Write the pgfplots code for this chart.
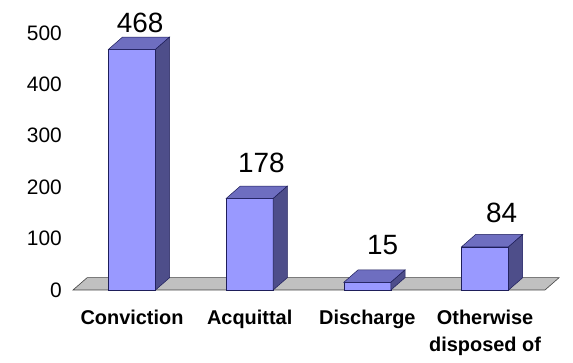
\documentclass[border=0pt]{standalone}
\usepackage{pgfplots}
\pgfplotsset{compat=1.18}
\usepackage{fontspec}
\setmainfont{Liberation Sans}
\definecolor{barfront}{RGB}{153,153,255}
\definecolor{bartop}{RGB}{110,110,192}
\definecolor{barside}{RGB}{78,78,138}
\definecolor{barline}{RGB}{30,30,90}
\definecolor{floorc}{RGB}{192,192,192}
\begin{document}
\begin{tikzpicture}
\begin{axis}[
  scale only axis,
  width=573bp, height=363bp,
  xmin=-0.1215, xmax=4.747,
  ymin=-142, ymax=564,
  axis line style={draw=none},
  tick style={draw=none},
  major tick length=0pt,
  /pgf/number format/assume math mode=true,
  ytick={0,100,200,300,400,500},
  yticklabel style={anchor=east, inner sep=0pt, xshift=62bp, font=\fontsize{21}{23}\selectfont},
  xtick={1,2,3,4},
  xticklabels={Conviction, Acquittal, Discharge, {Otherwise\\disposed of}},
  xticklabel style={anchor=north, inner sep=0pt, yshift=53bp, align=center, font=\fontsize{20}{27}\selectfont\bfseries},
  clip=false,
]
% floor
\addplot[fill=floorc, draw=black!75, line width=0.6pt] coordinates {(0.499,0) (4.509,0) (4.629,24) (0.619,24)} -- cycle;
% Conviction 468
\addplot[fill=barfront, draw=barline, line width=0.5pt] coordinates {(0.8,0) (1.2,0) (1.2,468) (0.8,468)} -- cycle;
\addplot[fill=bartop, draw=barline, line width=0.5pt] coordinates {(0.8,468) (1.2,468) (1.32,492) (0.92,492)} -- cycle;
\addplot[fill=barside, draw=barline, line width=0.5pt] coordinates {(1.2,0) (1.32,24) (1.32,492) (1.2,468)} -- cycle;
% Acquittal 178
\addplot[fill=barfront, draw=barline, line width=0.5pt] coordinates {(1.8,0) (2.2,0) (2.2,178) (1.8,178)} -- cycle;
\addplot[fill=bartop, draw=barline, line width=0.5pt] coordinates {(1.8,178) (2.2,178) (2.32,202) (1.92,202)} -- cycle;
\addplot[fill=barside, draw=barline, line width=0.5pt] coordinates {(2.2,0) (2.32,24) (2.32,202) (2.2,178)} -- cycle;
% Discharge 15
\addplot[fill=barfront, draw=barline, line width=0.5pt] coordinates {(2.8,0) (3.2,0) (3.2,15) (2.8,15)} -- cycle;
\addplot[fill=bartop, draw=barline, line width=0.5pt] coordinates {(2.8,15) (3.2,15) (3.32,39) (2.92,39)} -- cycle;
\addplot[fill=barside, draw=barline, line width=0.5pt] coordinates {(3.2,0) (3.32,24) (3.32,39) (3.2,15)} -- cycle;
% Otherwise disposed of 84
\addplot[fill=barfront, draw=barline, line width=0.5pt] coordinates {(3.8,0) (4.2,0) (4.2,84) (3.8,84)} -- cycle;
\addplot[fill=bartop, draw=barline, line width=0.5pt] coordinates {(3.8,84) (4.2,84) (4.32,108) (3.92,108)} -- cycle;
\addplot[fill=barside, draw=barline, line width=0.5pt] coordinates {(4.2,0) (4.32,24) (4.32,108) (4.2,84)} -- cycle;
% value labels
\addplot[draw=none, mark=none, point meta=explicit,
  nodes near coords,
  every node near coord/.append style={anchor=south, inner sep=0pt, font=\fontsize{28}{30}\selectfont}]
  coordinates {(1.07,500) [468] (2.10,228) [178] (3.13,68) [15] (4.14,130) [84]};
\end{axis}
\end{tikzpicture}
\end{document}
